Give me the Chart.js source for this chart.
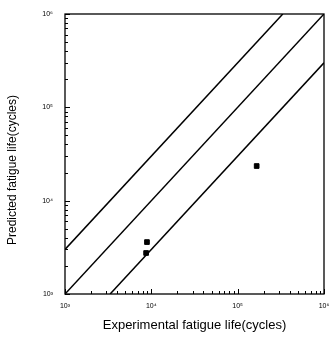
<!DOCTYPE html>
<html>
<head>
<meta charset="utf-8">
<script src="https://cdn.jsdelivr.net/npm/chart.js@4/dist/chart.umd.min.js"></script>
<style>
html,body{margin:0;padding:0;background:#fff;}
#wrap{width:330px;height:339px;}
</style>
</head>
<body>
<div id="wrap"><canvas id="myChart" width="330" height="339"></canvas></div>
<script>
// measured points (experimental, predicted)
var expLife = [8900, 8700, 166000];
var predLife = [3600, 2750, 23500];
// band lines: 1:1 and factor of 3
var midX = [1000, 1000000], midY = [1000, 1000000];
var upX = [1000, 333333], upY = [3000, 1000000];
var loX = [3333, 1000000], loY = [1000, 300000];
var majorTicks = [1000, 10000, 100000, 1000000];
var tickText = ["10\u00b3", "10\u2074", "10\u2075", "10\u2076"];
var yTitle = "Predicted fatigue life(cycles)";

function pts(xs, ys){
    return xs.map((x,i) => ({x:x, y:ys[i]}));
}
function lineSet(xs, ys){
    return {
        type: "line",
        data: pts(xs, ys),
        borderColor: "#000",
        borderWidth: 1.5,
        pointRadius: 0,
        fill: false
    };
}

// frame, inward ticks and the y title
const frame = {
    id: "frame",
    afterDraw(chart){
        const ctx = chart.ctx;
        const a = chart.chartArea;
        const xs = chart.scales.x, ys = chart.scales.y;
        ctx.save();
        ctx.strokeStyle = "#000";
        ctx.lineWidth = 1.3;
        ctx.strokeRect(a.left, a.top, a.right - a.left, a.bottom - a.top);
        ctx.lineWidth = 1;
        ctx.beginPath();
        for (let d = 1000; d < 1000000; d *= 10){
            for (let m = 1; m <= 10; m++){
                const v = d * m;
                const len = (m == 1 || m == 10) ? 5 : 3;
                const px = Math.round(xs.getPixelForValue(v)) + 0.5;
                ctx.moveTo(px, a.bottom);
                ctx.lineTo(px, a.bottom - len);
                const py = Math.round(ys.getPixelForValue(v)) + 0.5;
                ctx.moveTo(a.left, py);
                ctx.lineTo(a.left + len, py);
            }
        }
        ctx.stroke();
        // y title, sits a bit below centre in the reference
        ctx.translate(13, 170);
        ctx.rotate(-Math.PI / 2);
        ctx.fillStyle = "#000";
        ctx.font = "12px Arial";
        ctx.textAlign = "center";
        ctx.textBaseline = "middle";
        ctx.fillText(yTitle, 0, 0);
        ctx.restore();
    }
};

const data = {
    datasets: [
        lineSet(midX, midY),
        lineSet(upX, upY),
        lineSet(loX, loY),
        {
            type: "scatter",
            data: pts(expLife, predLife),
            backgroundColor: "#000",
            borderColor: "#000",
            pointStyle: "rect",
            pointRadius: 3.3
        }
    ]
};

const config = {
    type: "scatter",
    data: data,
    options: {
        responsive: false,
        animation: false,
        layout:{
            padding:{left: 0, right: 6, top: 14, bottom: 0}
        },
        plugins:{
            legend:{display:false},
            tooltip:{enabled:false}
        },
        scales:{
            x:{
                type: "logarithmic",
                min: 1000,
                max: 1000000,
                grid:{display:false},
                border:{display:false},
                afterBuildTicks: s => { s.ticks = majorTicks.map(v => ({value:v})); },
                afterFit: s => { s.height = 45; },
                ticks:{
                    autoSkip:false,
                    maxRotation:0,
                    padding:0,
                    color:"#000",
                    font:{family:"Arial", size:7},
                    callback: (v) => tickText[majorTicks.indexOf(v)]
                },
                title:{
                    display:true,
                    text:"Experimental fatigue life(cycles)",
                    color:"#000",
                    font:{family:"Arial", size:13},
                    padding:{top:6, bottom:6}
                }
            },
            y:{
                type: "logarithmic",
                min: 1000,
                max: 1000000,
                grid:{display:false},
                border:{display:false},
                afterBuildTicks: s => { s.ticks = majorTicks.map(v => ({value:v})); },
                afterFit: s => { s.width = 65; },
                ticks:{
                    autoSkip:false,
                    padding:4,
                    color:"#000",
                    font:{family:"Arial", size:7},
                    callback: (v) => tickText[majorTicks.indexOf(v)]
                }
            }
        }
    },
    plugins:[frame]
};

let mychart = new Chart(document.getElementById("myChart").getContext("2d"), config);
</script>
</body>
</html>
